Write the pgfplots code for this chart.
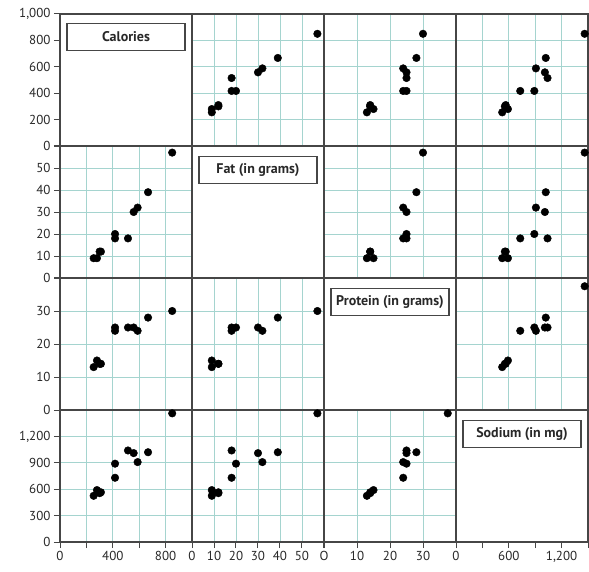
\documentclass[border=0pt]{standalone}
\usepackage{pgfplots}
\pgfplotsset{compat=1.18}
\usepackage{pgfplotstable}
\usepackage{fontspec}
\setmainfont{PT Sans}
\definecolor{bordercol}{RGB}{70,70,70}
\definecolor{gridcol}{RGB}{165,212,207}
\definecolor{labelcol}{RGB}{40,40,40}
\newcommand\ticks{\fontsize{13}{15}\selectfont}

\pgfplotstableread{
cal fat prot sod protb
255 9 13 525 13
280 9 15 590 15
300 12 14 555 14
310 12 14 565 14
417 18 24 730 24
417 20 25 890 25
515 18 25 1040 25
558 30 25 1010 25
588 32 24 908 24
667 39 28 1020 28
850 57 30 1462 37.5
}\data

\pgfplotsset{
  base/.style={scale only axis, width=132pt, height=132pt, anchor=south west,
    axis line style={draw=bordercol, line width=1.3pt},
    grid=major, major grid style={draw=gridcol, line width=0.9pt},
    xticklabels={}, yticklabels={},
    xtick style={draw=none}, ytick style={draw=none},
    xtick pos=left, ytick pos=left, tick align=outside, major tick length=6pt,
    ticklabel style={font=\ticks, text=labelcol},
    clip=false},
  diag/.style={grid=none},
  colC/.style={xmin=0,xmax=1000,xtick={0,200,...,1000}},
  colF/.style={xmin=0,xmax=60,xtick={0,10,...,60}},
  colP/.style={xmin=0,xmax=40,xtick={0,10,...,40}},
  colS/.style={xmin=0,xmax=1500,xtick={0,300,...,1500}},
  rowC/.style={ymin=0,ymax=1000,ytick={0,200,...,1000}},
  rowF/.style={ymin=0,ymax=60,ytick={0,10,...,60}},
  rowP/.style={ymin=0,ymax=40,ytick={0,10,...,40}},
  rowS/.style={ymin=0,ymax=1500,ytick={0,300,...,1500}},
  ledge/.style={ytick style={draw=bordercol, line width=1pt}},
  bedge/.style={xtick style={draw=bordercol, line width=1pt}},
  leftC/.style={ledge, yticklabels={0,200,400,600,800,{1,000}}},
  leftF/.style={ledge, yticklabels={0,10,20,30,40,50,}},
  leftP/.style={ledge, yticklabels={0,10,20,30,}},
  leftS/.style={ledge, yticklabels={0,300,600,900,{1,200},}},
  botC/.style={bedge, xticklabels={0,,400,,800,}},
  botF/.style={bedge, xticklabels={0,10,20,30,40,50,}},
  botP/.style={bedge, xticklabels={O,10,20,30,}},
  botS/.style={bedge, xticklabels={0,,600,,{1,200},}},
  pts/.style={only marks, mark=*, mark size=3.8pt, black},
}
\tikzset{lblbox/.style={draw=bordercol, line width=1.1pt, fill=white,
  minimum width=118pt, minimum height=27pt, inner xsep=5pt,
  font=\fontsize{14}{16}\selectfont\bfseries, text=labelcol, anchor=north}}

\begin{document}
\begin{tikzpicture}
\useasboundingbox (0pt,0pt) rectangle (589pt,571pt);
% Row 1: Calories
\begin{axis}[base, diag, colC, rowC, leftC, at={(60pt,425pt)}]
\node[lblbox, yshift=-9pt] at (rel axis cs:0.5,1) {Calories};
\end{axis}
\begin{axis}[base, colF, rowC, at={(192pt,425pt)}]
\addplot[pts] table[x=fat, y=cal] {\data};
\end{axis}
\begin{axis}[base, colP, rowC, at={(324pt,425pt)}]
\addplot[pts] table[x=prot, y=cal] {\data};
\end{axis}
\begin{axis}[base, colS, rowC, at={(456pt,425pt)}]
\addplot[pts] table[x=sod, y=cal] {\data};
\end{axis}
% Row 2: Fat
\begin{axis}[base, colC, rowF, leftF, at={(60pt,293pt)}]
\addplot[pts] table[x=cal, y=fat] {\data};
\end{axis}
\begin{axis}[base, diag, colF, rowF, at={(192pt,293pt)}]
\node[lblbox, yshift=-10pt] at (rel axis cs:0.5,1) {Fat (in grams)};
\end{axis}
\begin{axis}[base, colP, rowF, at={(324pt,293pt)}]
\addplot[pts] table[x=prot, y=fat] {\data};
\end{axis}
\begin{axis}[base, colS, rowF, at={(456pt,293pt)}]
\addplot[pts] table[x=sod, y=fat] {\data};
\end{axis}
% Row 3: Protein
\begin{axis}[base, colC, rowP, leftP, at={(60pt,161pt)}]
\addplot[pts] table[x=cal, y=prot] {\data};
\end{axis}
\begin{axis}[base, colF, rowP, at={(192pt,161pt)}]
\addplot[pts] table[x=fat, y=prot] {\data};
\end{axis}
\begin{axis}[base, diag, colP, rowP, at={(324pt,161pt)}]
\node[lblbox, yshift=-10pt] at (rel axis cs:0.5,1) {Protein (in grams)};
\end{axis}
\begin{axis}[base, colS, rowP, at={(456pt,161pt)}]
\addplot[pts] table[x=sod, y=protb] {\data};
\end{axis}
% Row 4: Sodium
\begin{axis}[base, colC, rowS, leftS, botC, at={(60pt,29pt)}]
\addplot[pts] table[x=cal, y=sod] {\data};
\end{axis}
\begin{axis}[base, colF, rowS, botF, at={(192pt,29pt)}]
\addplot[pts] table[x=fat, y=sod] {\data};
\end{axis}
\begin{axis}[base, colP, rowS, botP, at={(324pt,29pt)}]
\addplot[pts] table[x=protb, y=sod] {\data};
\end{axis}
\begin{axis}[base, diag, colS, rowS, botS, at={(456pt,29pt)}]
\node[lblbox, yshift=-10pt] at (rel axis cs:0.5,1) {Sodium (in mg)};
\end{axis}
\end{tikzpicture}
\end{document}
